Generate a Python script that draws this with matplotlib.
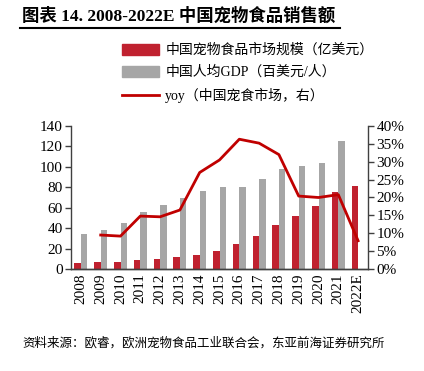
import numpy as np
import matplotlib.pyplot as plt
from matplotlib.patches import Patch
from matplotlib.lines import Line2D

plt.rcParams['font.family'] = ['Liberation Serif', 'Noto Sans CJK SC', 'DejaVu Sans']

years = ['2008', '2009', '2010', '2011', '2012', '2013', '2014', '2015',
         '2016', '2017', '2018', '2019', '2020', '2021', '2022E']
market = [6, 6.5, 7, 8.5, 9.5, 11.5, 14, 18, 24, 32.5, 43, 52, 62, 75.5, 81]
gdp = [34, 38, 45.5, 56, 63, 70, 76.5, 80, 80.5, 88, 98, 101, 104, 125.5, np.nan]
yoy = [np.nan, 9.5, 9.2, 14.8, 14.6, 16.5, 27, 30.5, 36.3, 35.2, 32, 20.4, 20, 20.8, 7.9]

red = '#C0212F'
gray = '#A6A6A6'
linered = '#C00000'

fig = plt.figure(figsize=(4.24, 3.71), dpi=100)
ax = fig.add_axes([71/424, 1 - 269/371, (368 - 71)/424, (269 - 126)/371])
ax2 = ax.twinx()

x = np.arange(len(years))
w = 0.33
ax.bar(x - w/2, market, w, color=red, zorder=2)
ax.bar(x + w/2, gdp, w, color=gray, zorder=2)
ax2.plot(x, yoy, color=linered, lw=2, zorder=3)

ax.set_xlim(-0.5, len(years) - 0.5)
ax.set_ylim(0, 140)
ax.set_yticks(range(0, 141, 20))
ax2.set_ylim(0, 40)
ax2.set_yticks(range(0, 41, 5))
ax2.set_yticklabels([f'{v}%' for v in range(0, 41, 5)])
ax.set_xticks(x)
ax.set_xticklabels(years, rotation=90)

for a in (ax, ax2):
    a.spines['top'].set_visible(False)
    for s in a.spines.values():
        s.set_color('#404040')
        s.set_linewidth(1)
    a.tick_params(axis='y', labelsize=11, length=4, width=1, color='#404040', pad=2)
ax.tick_params(axis='x', length=0, labelsize=11, pad=3)
ax.spines['right'].set_visible(False)
ax2.spines['left'].set_visible(False)

handles = [Patch(color=red), Patch(color=gray), Line2D([], [], color=linered, lw=2)]
labels = ['中国宠物食品市场规模（亿美元）', '中国人均GDP（百美元/人）', 'yoy（中国宠食市场，右）']
fig.legend(handles, labels, loc='upper left', bbox_to_anchor=(116/424, 1 - 38/371),
           frameon=False, fontsize=10, handlelength=2.7, handleheight=0.8,
           labelspacing=0.62, handletextpad=0.45, borderaxespad=0)

fig.text(22/424, 1 - 16/371, '图表 14. 2008-2022E 中国宠物食品销售额',
         fontsize=12.5, fontweight='bold', va='center', ha='left',
         family=['Liberation Serif', 'Noto Sans CJK SC'])
fig.add_artist(Line2D([20/424, 340/424], [1 - 28/371, 1 - 28/371], color='black', lw=1.5))
fig.text(22/424, 1 - 343/371, '资料来源：欧睿，欧洲宠物食品工业联合会，东亚前海证券研究所',
         fontsize=9, va='center', ha='left', family=['Noto Sans CJK SC', 'DejaVu Sans'])

fig.savefig('out.png', dpi=100)
